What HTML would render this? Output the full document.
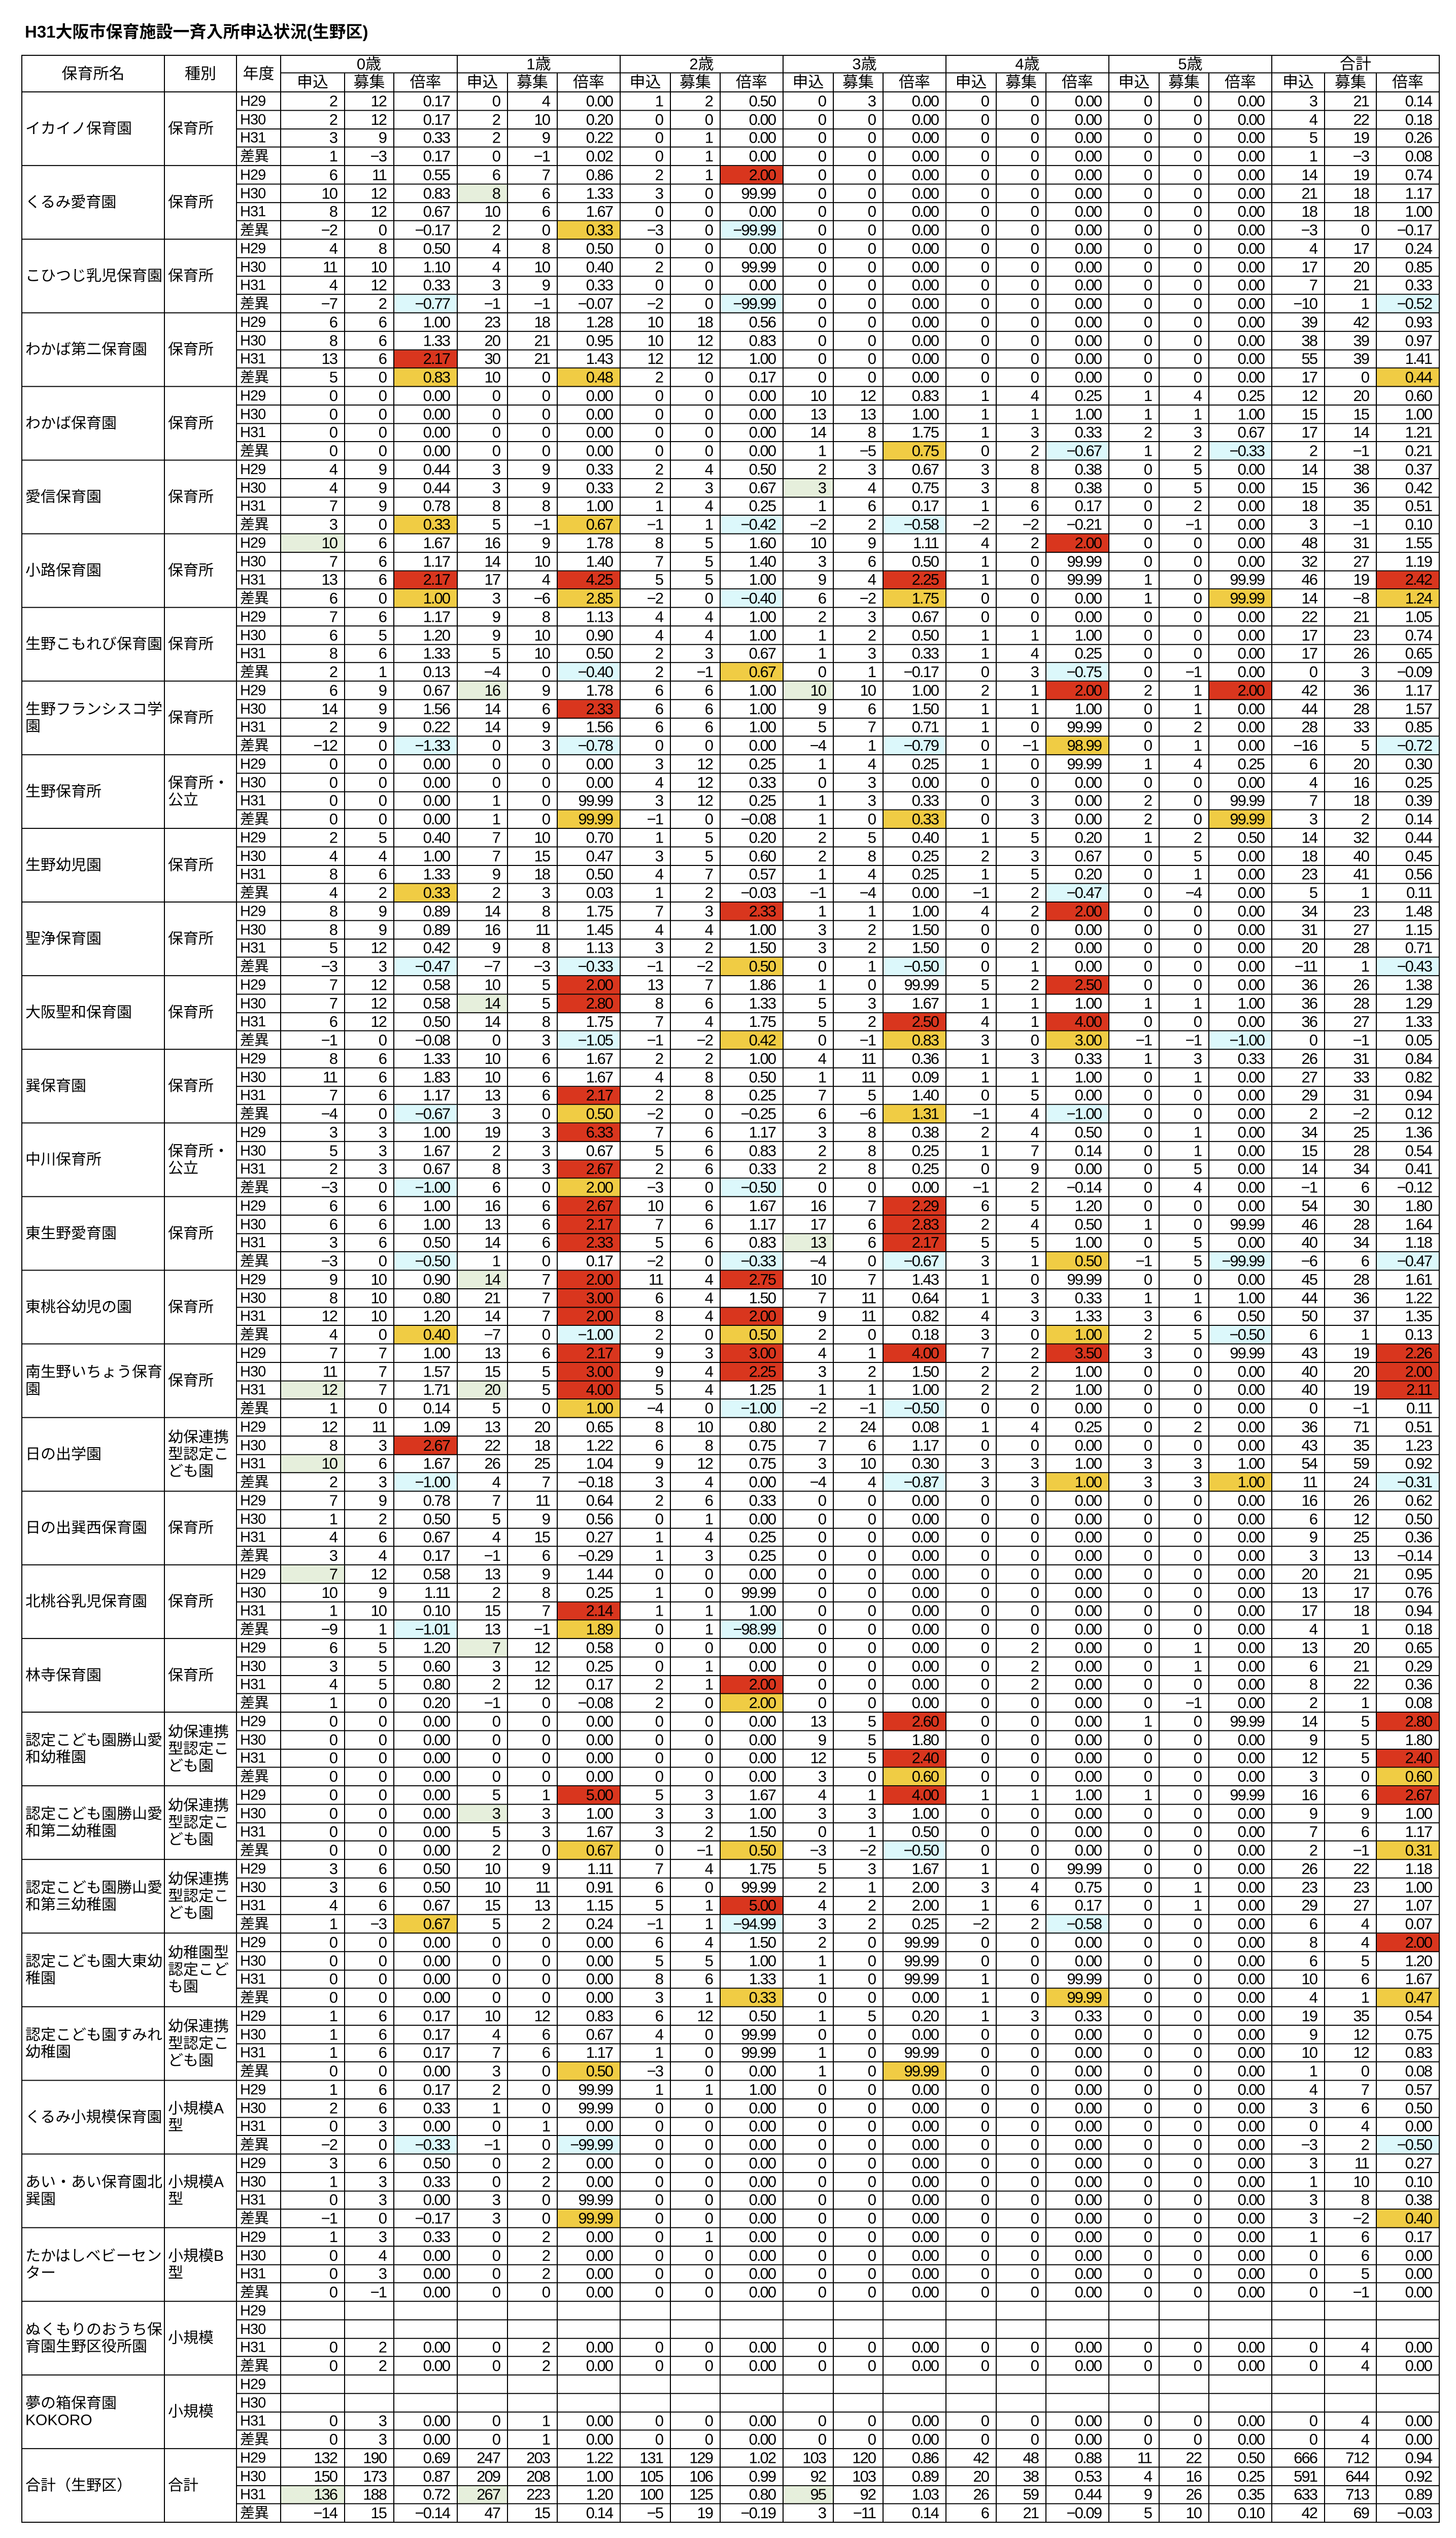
<!DOCTYPE html>
<html style="overflow:hidden"><head><meta charset="utf-8">
<style>
html,body{margin:0;width:2869px;height:5068px;overflow:hidden}
body{background:#fff;position:relative;font-family:"Liberation Sans","Noto Sans CJK JP",sans-serif;color:#000}
.wrap{position:absolute;left:0;top:0;width:2869px;height:5068px;overflow:hidden}
.t{position:absolute;left:49px;top:36px;font-size:33px;font-weight:bold;white-space:nowrap}
table{position:absolute;left:42px;top:108px;border-collapse:separate;border-spacing:0;border-top:2px solid #000;border-left:2px solid #000;table-layout:fixed;width:2795px;font-size:31px;letter-spacing:-2px;transform:scaleY(0.987);transform-origin:0 0}
td,th{border:0;border-right:2px solid #000;border-bottom:2px solid #000;padding:0 14px 0 4px;text-align:right;white-space:nowrap;overflow:hidden;line-height:28px;font-weight:normal}
th{text-align:center;font-size:31px;letter-spacing:0;padding:0}
tr{height:37px}
tr:nth-child(4n+1){height:36px}
tr.h1{height:35px}tr.h2{height:38px}
td.n{text-align:left;white-space:normal;font-size:30px;letter-spacing:0;line-height:34px;padding-left:6px;padding-right:2px;vertical-align:middle}
td.a{text-align:left;letter-spacing:-1px;font-size:29px;padding-left:6px}
.r{background:#d9361e}.y{background:#f0cc44}.c{background:#dcf8fb}.g{background:#e6efdc}
</style></head><body>
<div class="wrap">
<div class="t">H31大阪市保育施設一斉入所申込状況(生野区)</div>
<table>
<colgroup><col style="width:281px"><col style="width:142px"><col style="width:87px"><col style="width:126px"><col style="width:97px"><col style="width:125px"><col style="width:99px"><col style="width:98px"><col style="width:124px"><col style="width:99px"><col style="width:98px"><col style="width:124px"><col style="width:99px"><col style="width:98px"><col style="width:124px"><col style="width:99px"><col style="width:98px"><col style="width:124px"><col style="width:99px"><col style="width:98px"><col style="width:124px"><col style="width:104px"><col style="width:102px"><col style="width:124px"></colgroup>
<tr class="h1"><th rowspan=2>保育所名<th rowspan=2>種別<th rowspan=2>年度<th colspan=3>0歳<th colspan=3>1歳<th colspan=3>2歳<th colspan=3>3歳<th colspan=3>4歳<th colspan=3>5歳<th colspan=3>合計
<tr class="h2"><th>申込<th>募集<th>倍率<th>申込<th>募集<th>倍率<th>申込<th>募集<th>倍率<th>申込<th>募集<th>倍率<th>申込<th>募集<th>倍率<th>申込<th>募集<th>倍率<th>申込<th>募集<th>倍率

<tr><td rowspan=4 class=n>イカイノ保育園<td rowspan=4 class=n>保育所<td class=a>H29<td>2<td>12<td>0.17<td>0<td>4<td>0.00<td>1<td>2<td>0.50<td>0<td>3<td>0.00<td>0<td>0<td>0.00<td>0<td>0<td>0.00<td>3<td>21<td>0.14
<tr><td class=a>H30<td>2<td>12<td>0.17<td>2<td>10<td>0.20<td>0<td>0<td>0.00<td>0<td>0<td>0.00<td>0<td>0<td>0.00<td>0<td>0<td>0.00<td>4<td>22<td>0.18
<tr><td class=a>H31<td>3<td>9<td>0.33<td>2<td>9<td>0.22<td>0<td>1<td>0.00<td>0<td>0<td>0.00<td>0<td>0<td>0.00<td>0<td>0<td>0.00<td>5<td>19<td>0.26
<tr><td class=a>差異<td>1<td>−3<td>0.17<td>0<td>−1<td>0.02<td>0<td>1<td>0.00<td>0<td>0<td>0.00<td>0<td>0<td>0.00<td>0<td>0<td>0.00<td>1<td>−3<td>0.08

<tr><td rowspan=4 class=n>くるみ愛育園<td rowspan=4 class=n>保育所<td class=a>H29<td>6<td>11<td>0.55<td>6<td>7<td>0.86<td>2<td>1<td class=r>2.00<td>0<td>0<td>0.00<td>0<td>0<td>0.00<td>0<td>0<td>0.00<td>14<td>19<td>0.74
<tr><td class=a>H30<td>10<td>12<td>0.83<td class=g>8<td>6<td>1.33<td>3<td>0<td>99.99<td>0<td>0<td>0.00<td>0<td>0<td>0.00<td>0<td>0<td>0.00<td>21<td>18<td>1.17
<tr><td class=a>H31<td>8<td>12<td>0.67<td>10<td>6<td>1.67<td>0<td>0<td>0.00<td>0<td>0<td>0.00<td>0<td>0<td>0.00<td>0<td>0<td>0.00<td>18<td>18<td>1.00
<tr><td class=a>差異<td>−2<td>0<td>−0.17<td>2<td>0<td class=y>0.33<td>−3<td>0<td class=c>−99.99<td>0<td>0<td>0.00<td>0<td>0<td>0.00<td>0<td>0<td>0.00<td>−3<td>0<td>−0.17

<tr><td rowspan=4 class=n>こひつじ乳児保育園<td rowspan=4 class=n>保育所<td class=a>H29<td>4<td>8<td>0.50<td>4<td>8<td>0.50<td>0<td>0<td>0.00<td>0<td>0<td>0.00<td>0<td>0<td>0.00<td>0<td>0<td>0.00<td>4<td>17<td>0.24
<tr><td class=a>H30<td>11<td>10<td>1.10<td>4<td>10<td>0.40<td>2<td>0<td>99.99<td>0<td>0<td>0.00<td>0<td>0<td>0.00<td>0<td>0<td>0.00<td>17<td>20<td>0.85
<tr><td class=a>H31<td>4<td>12<td>0.33<td>3<td>9<td>0.33<td>0<td>0<td>0.00<td>0<td>0<td>0.00<td>0<td>0<td>0.00<td>0<td>0<td>0.00<td>7<td>21<td>0.33
<tr><td class=a>差異<td>−7<td>2<td class=c>−0.77<td>−1<td>−1<td>−0.07<td>−2<td>0<td class=c>−99.99<td>0<td>0<td>0.00<td>0<td>0<td>0.00<td>0<td>0<td>0.00<td>−10<td>1<td class=c>−0.52

<tr><td rowspan=4 class=n>わかば第二保育園<td rowspan=4 class=n>保育所<td class=a>H29<td>6<td>6<td>1.00<td>23<td>18<td>1.28<td>10<td>18<td>0.56<td>0<td>0<td>0.00<td>0<td>0<td>0.00<td>0<td>0<td>0.00<td>39<td>42<td>0.93
<tr><td class=a>H30<td>8<td>6<td>1.33<td>20<td>21<td>0.95<td>10<td>12<td>0.83<td>0<td>0<td>0.00<td>0<td>0<td>0.00<td>0<td>0<td>0.00<td>38<td>39<td>0.97
<tr><td class=a>H31<td>13<td>6<td class=r>2.17<td>30<td>21<td>1.43<td>12<td>12<td>1.00<td>0<td>0<td>0.00<td>0<td>0<td>0.00<td>0<td>0<td>0.00<td>55<td>39<td>1.41
<tr><td class=a>差異<td>5<td>0<td class=y>0.83<td>10<td>0<td class=y>0.48<td>2<td>0<td>0.17<td>0<td>0<td>0.00<td>0<td>0<td>0.00<td>0<td>0<td>0.00<td>17<td>0<td class=y>0.44

<tr><td rowspan=4 class=n>わかば保育園<td rowspan=4 class=n>保育所<td class=a>H29<td>0<td>0<td>0.00<td>0<td>0<td>0.00<td>0<td>0<td>0.00<td>10<td>12<td>0.83<td>1<td>4<td>0.25<td>1<td>4<td>0.25<td>12<td>20<td>0.60
<tr><td class=a>H30<td>0<td>0<td>0.00<td>0<td>0<td>0.00<td>0<td>0<td>0.00<td>13<td>13<td>1.00<td>1<td>1<td>1.00<td>1<td>1<td>1.00<td>15<td>15<td>1.00
<tr><td class=a>H31<td>0<td>0<td>0.00<td>0<td>0<td>0.00<td>0<td>0<td>0.00<td>14<td>8<td>1.75<td>1<td>3<td>0.33<td>2<td>3<td>0.67<td>17<td>14<td>1.21
<tr><td class=a>差異<td>0<td>0<td>0.00<td>0<td>0<td>0.00<td>0<td>0<td>0.00<td>1<td>−5<td class=y>0.75<td>0<td>2<td class=c>−0.67<td>1<td>2<td class=c>−0.33<td>2<td>−1<td>0.21

<tr><td rowspan=4 class=n>愛信保育園<td rowspan=4 class=n>保育所<td class=a>H29<td>4<td>9<td>0.44<td>3<td>9<td>0.33<td>2<td>4<td>0.50<td>2<td>3<td>0.67<td>3<td>8<td>0.38<td>0<td>5<td>0.00<td>14<td>38<td>0.37
<tr><td class=a>H30<td>4<td>9<td>0.44<td>3<td>9<td>0.33<td>2<td>3<td>0.67<td class=g>3<td>4<td>0.75<td>3<td>8<td>0.38<td>0<td>5<td>0.00<td>15<td>36<td>0.42
<tr><td class=a>H31<td>7<td>9<td>0.78<td>8<td>8<td>1.00<td>1<td>4<td>0.25<td>1<td>6<td>0.17<td>1<td>6<td>0.17<td>0<td>2<td>0.00<td>18<td>35<td>0.51
<tr><td class=a>差異<td>3<td>0<td class=y>0.33<td>5<td>−1<td class=y>0.67<td>−1<td>1<td class=c>−0.42<td>−2<td>2<td class=c>−0.58<td>−2<td>−2<td>−0.21<td>0<td>−1<td>0.00<td>3<td>−1<td>0.10

<tr><td rowspan=4 class=n>小路保育園<td rowspan=4 class=n>保育所<td class=a>H29<td class=g>10<td>6<td>1.67<td>16<td>9<td>1.78<td>8<td>5<td>1.60<td>10<td>9<td>1.11<td>4<td>2<td class=r>2.00<td>0<td>0<td>0.00<td>48<td>31<td>1.55
<tr><td class=a>H30<td>7<td>6<td>1.17<td>14<td>10<td>1.40<td>7<td>5<td>1.40<td>3<td>6<td>0.50<td>1<td>0<td>99.99<td>0<td>0<td>0.00<td>32<td>27<td>1.19
<tr><td class=a>H31<td>13<td>6<td class=r>2.17<td>17<td>4<td class=r>4.25<td>5<td>5<td>1.00<td>9<td>4<td class=r>2.25<td>1<td>0<td>99.99<td>1<td>0<td>99.99<td>46<td>19<td class=r>2.42
<tr><td class=a>差異<td>6<td>0<td class=y>1.00<td>3<td>−6<td class=y>2.85<td>−2<td>0<td class=c>−0.40<td>6<td>−2<td class=y>1.75<td>0<td>0<td>0.00<td>1<td>0<td class=y>99.99<td>14<td>−8<td class=y>1.24

<tr><td rowspan=4 class=n>生野こもれび保育園<td rowspan=4 class=n>保育所<td class=a>H29<td>7<td>6<td>1.17<td>9<td>8<td>1.13<td>4<td>4<td>1.00<td>2<td>3<td>0.67<td>0<td>0<td>0.00<td>0<td>0<td>0.00<td>22<td>21<td>1.05
<tr><td class=a>H30<td>6<td>5<td>1.20<td>9<td>10<td>0.90<td>4<td>4<td>1.00<td>1<td>2<td>0.50<td>1<td>1<td>1.00<td>0<td>0<td>0.00<td>17<td>23<td>0.74
<tr><td class=a>H31<td>8<td>6<td>1.33<td>5<td>10<td>0.50<td>2<td>3<td>0.67<td>1<td>3<td>0.33<td>1<td>4<td>0.25<td>0<td>0<td>0.00<td>17<td>26<td>0.65
<tr><td class=a>差異<td>2<td>1<td>0.13<td>−4<td>0<td class=c>−0.40<td>2<td>−1<td class=y>0.67<td>0<td>1<td>−0.17<td>0<td>3<td class=c>−0.75<td>0<td>−1<td>0.00<td>0<td>3<td>−0.09

<tr><td rowspan=4 class=n>生野フランシスコ学園<td rowspan=4 class=n>保育所<td class=a>H29<td>6<td>9<td>0.67<td class=g>16<td>9<td>1.78<td>6<td>6<td>1.00<td class=g>10<td>10<td>1.00<td>2<td>1<td class=r>2.00<td>2<td>1<td class=r>2.00<td>42<td>36<td>1.17
<tr><td class=a>H30<td>14<td>9<td>1.56<td>14<td>6<td class=r>2.33<td>6<td>6<td>1.00<td>9<td>6<td>1.50<td>1<td>1<td>1.00<td>0<td>1<td>0.00<td>44<td>28<td>1.57
<tr><td class=a>H31<td>2<td>9<td>0.22<td>14<td>9<td>1.56<td>6<td>6<td>1.00<td>5<td>7<td>0.71<td>1<td>0<td>99.99<td>0<td>2<td>0.00<td>28<td>33<td>0.85
<tr><td class=a>差異<td>−12<td>0<td class=c>−1.33<td>0<td>3<td class=c>−0.78<td>0<td>0<td>0.00<td>−4<td>1<td class=c>−0.79<td>0<td>−1<td class=y>98.99<td>0<td>1<td>0.00<td>−16<td>5<td class=c>−0.72

<tr><td rowspan=4 class=n>生野保育所<td rowspan=4 class=n>保育所・公立<td class=a>H29<td>0<td>0<td>0.00<td>0<td>0<td>0.00<td>3<td>12<td>0.25<td>1<td>4<td>0.25<td>1<td>0<td>99.99<td>1<td>4<td>0.25<td>6<td>20<td>0.30
<tr><td class=a>H30<td>0<td>0<td>0.00<td>0<td>0<td>0.00<td>4<td>12<td>0.33<td>0<td>3<td>0.00<td>0<td>0<td>0.00<td>0<td>0<td>0.00<td>4<td>16<td>0.25
<tr><td class=a>H31<td>0<td>0<td>0.00<td>1<td>0<td>99.99<td>3<td>12<td>0.25<td>1<td>3<td>0.33<td>0<td>3<td>0.00<td>2<td>0<td>99.99<td>7<td>18<td>0.39
<tr><td class=a>差異<td>0<td>0<td>0.00<td>1<td>0<td class=y>99.99<td>−1<td>0<td>−0.08<td>1<td>0<td class=y>0.33<td>0<td>3<td>0.00<td>2<td>0<td class=y>99.99<td>3<td>2<td>0.14

<tr><td rowspan=4 class=n>生野幼児園<td rowspan=4 class=n>保育所<td class=a>H29<td>2<td>5<td>0.40<td>7<td>10<td>0.70<td>1<td>5<td>0.20<td>2<td>5<td>0.40<td>1<td>5<td>0.20<td>1<td>2<td>0.50<td>14<td>32<td>0.44
<tr><td class=a>H30<td>4<td>4<td>1.00<td>7<td>15<td>0.47<td>3<td>5<td>0.60<td>2<td>8<td>0.25<td>2<td>3<td>0.67<td>0<td>5<td>0.00<td>18<td>40<td>0.45
<tr><td class=a>H31<td>8<td>6<td>1.33<td>9<td>18<td>0.50<td>4<td>7<td>0.57<td>1<td>4<td>0.25<td>1<td>5<td>0.20<td>0<td>1<td>0.00<td>23<td>41<td>0.56
<tr><td class=a>差異<td>4<td>2<td class=y>0.33<td>2<td>3<td>0.03<td>1<td>2<td>−0.03<td>−1<td>−4<td>0.00<td>−1<td>2<td class=c>−0.47<td>0<td>−4<td>0.00<td>5<td>1<td>0.11

<tr><td rowspan=4 class=n>聖浄保育園<td rowspan=4 class=n>保育所<td class=a>H29<td>8<td>9<td>0.89<td>14<td>8<td>1.75<td>7<td>3<td class=r>2.33<td>1<td>1<td>1.00<td>4<td>2<td class=r>2.00<td>0<td>0<td>0.00<td>34<td>23<td>1.48
<tr><td class=a>H30<td>8<td>9<td>0.89<td>16<td>11<td>1.45<td>4<td>4<td>1.00<td>3<td>2<td>1.50<td>0<td>0<td>0.00<td>0<td>0<td>0.00<td>31<td>27<td>1.15
<tr><td class=a>H31<td>5<td>12<td>0.42<td>9<td>8<td>1.13<td>3<td>2<td>1.50<td>3<td>2<td>1.50<td>0<td>2<td>0.00<td>0<td>0<td>0.00<td>20<td>28<td>0.71
<tr><td class=a>差異<td>−3<td>3<td class=c>−0.47<td>−7<td>−3<td class=c>−0.33<td>−1<td>−2<td class=y>0.50<td>0<td>1<td class=c>−0.50<td>0<td>1<td>0.00<td>0<td>0<td>0.00<td>−11<td>1<td class=c>−0.43

<tr><td rowspan=4 class=n>大阪聖和保育園<td rowspan=4 class=n>保育所<td class=a>H29<td>7<td>12<td>0.58<td>10<td>5<td class=r>2.00<td>13<td>7<td>1.86<td>1<td>0<td>99.99<td>5<td>2<td class=r>2.50<td>0<td>0<td>0.00<td>36<td>26<td>1.38
<tr><td class=a>H30<td>7<td>12<td>0.58<td class=g>14<td>5<td class=r>2.80<td>8<td>6<td>1.33<td>5<td>3<td>1.67<td>1<td>1<td>1.00<td>1<td>1<td>1.00<td>36<td>28<td>1.29
<tr><td class=a>H31<td>6<td>12<td>0.50<td>14<td>8<td>1.75<td>7<td>4<td>1.75<td>5<td>2<td class=r>2.50<td>4<td>1<td class=r>4.00<td>0<td>0<td>0.00<td>36<td>27<td>1.33
<tr><td class=a>差異<td>−1<td>0<td>−0.08<td>0<td>3<td class=c>−1.05<td>−1<td>−2<td class=y>0.42<td>0<td>−1<td class=y>0.83<td>3<td>0<td class=y>3.00<td>−1<td>−1<td class=c>−1.00<td>0<td>−1<td>0.05

<tr><td rowspan=4 class=n>巽保育園<td rowspan=4 class=n>保育所<td class=a>H29<td>8<td>6<td>1.33<td>10<td>6<td>1.67<td>2<td>2<td>1.00<td>4<td>11<td>0.36<td>1<td>3<td>0.33<td>1<td>3<td>0.33<td>26<td>31<td>0.84
<tr><td class=a>H30<td>11<td>6<td>1.83<td>10<td>6<td>1.67<td>4<td>8<td>0.50<td>1<td>11<td>0.09<td>1<td>1<td>1.00<td>0<td>1<td>0.00<td>27<td>33<td>0.82
<tr><td class=a>H31<td>7<td>6<td>1.17<td>13<td>6<td class=r>2.17<td>2<td>8<td>0.25<td>7<td>5<td>1.40<td>0<td>5<td>0.00<td>0<td>0<td>0.00<td>29<td>31<td>0.94
<tr><td class=a>差異<td>−4<td>0<td class=c>−0.67<td>3<td>0<td class=y>0.50<td>−2<td>0<td>−0.25<td>6<td>−6<td class=y>1.31<td>−1<td>4<td class=c>−1.00<td>0<td>0<td>0.00<td>2<td>−2<td>0.12

<tr><td rowspan=4 class=n>中川保育所<td rowspan=4 class=n>保育所・公立<td class=a>H29<td>3<td>3<td>1.00<td>19<td>3<td class=r>6.33<td>7<td>6<td>1.17<td>3<td>8<td>0.38<td>2<td>4<td>0.50<td>0<td>1<td>0.00<td>34<td>25<td>1.36
<tr><td class=a>H30<td>5<td>3<td>1.67<td>2<td>3<td>0.67<td>5<td>6<td>0.83<td>2<td>8<td>0.25<td>1<td>7<td>0.14<td>0<td>1<td>0.00<td>15<td>28<td>0.54
<tr><td class=a>H31<td>2<td>3<td>0.67<td>8<td>3<td class=r>2.67<td>2<td>6<td>0.33<td>2<td>8<td>0.25<td>0<td>9<td>0.00<td>0<td>5<td>0.00<td>14<td>34<td>0.41
<tr><td class=a>差異<td>−3<td>0<td class=c>−1.00<td>6<td>0<td class=y>2.00<td>−3<td>0<td class=c>−0.50<td>0<td>0<td>0.00<td>−1<td>2<td>−0.14<td>0<td>4<td>0.00<td>−1<td>6<td>−0.12

<tr><td rowspan=4 class=n>東生野愛育園<td rowspan=4 class=n>保育所<td class=a>H29<td>6<td>6<td>1.00<td>16<td>6<td class=r>2.67<td>10<td>6<td>1.67<td>16<td>7<td class=r>2.29<td>6<td>5<td>1.20<td>0<td>0<td>0.00<td>54<td>30<td>1.80
<tr><td class=a>H30<td>6<td>6<td>1.00<td>13<td>6<td class=r>2.17<td>7<td>6<td>1.17<td>17<td>6<td class=r>2.83<td>2<td>4<td>0.50<td>1<td>0<td>99.99<td>46<td>28<td>1.64
<tr><td class=a>H31<td>3<td>6<td>0.50<td>14<td>6<td class=r>2.33<td>5<td>6<td>0.83<td class=g>13<td>6<td class=r>2.17<td>5<td>5<td>1.00<td>0<td>5<td>0.00<td>40<td>34<td>1.18
<tr><td class=a>差異<td>−3<td>0<td class=c>−0.50<td>1<td>0<td>0.17<td>−2<td>0<td class=c>−0.33<td>−4<td>0<td class=c>−0.67<td>3<td>1<td class=y>0.50<td>−1<td>5<td class=c>−99.99<td>−6<td>6<td class=c>−0.47

<tr><td rowspan=4 class=n>東桃谷幼児の園<td rowspan=4 class=n>保育所<td class=a>H29<td>9<td>10<td>0.90<td class=g>14<td>7<td class=r>2.00<td>11<td>4<td class=r>2.75<td>10<td>7<td>1.43<td>1<td>0<td>99.99<td>0<td>0<td>0.00<td>45<td>28<td>1.61
<tr><td class=a>H30<td>8<td>10<td>0.80<td>21<td>7<td class=r>3.00<td>6<td>4<td>1.50<td>7<td>11<td>0.64<td>1<td>3<td>0.33<td>1<td>1<td>1.00<td>44<td>36<td>1.22
<tr><td class=a>H31<td>12<td>10<td>1.20<td>14<td>7<td class=r>2.00<td>8<td>4<td class=r>2.00<td>9<td>11<td>0.82<td>4<td>3<td>1.33<td>3<td>6<td>0.50<td>50<td>37<td>1.35
<tr><td class=a>差異<td>4<td>0<td class=y>0.40<td>−7<td>0<td class=c>−1.00<td>2<td>0<td class=y>0.50<td>2<td>0<td>0.18<td>3<td>0<td class=y>1.00<td>2<td>5<td class=c>−0.50<td>6<td>1<td>0.13

<tr><td rowspan=4 class=n>南生野いちょう保育園<td rowspan=4 class=n>保育所<td class=a>H29<td>7<td>7<td>1.00<td>13<td>6<td class=r>2.17<td>9<td>3<td class=r>3.00<td>4<td>1<td class=r>4.00<td>7<td>2<td class=r>3.50<td>3<td>0<td>99.99<td>43<td>19<td class=r>2.26
<tr><td class=a>H30<td>11<td>7<td>1.57<td>15<td>5<td class=r>3.00<td>9<td>4<td class=r>2.25<td>3<td>2<td>1.50<td>2<td>2<td>1.00<td>0<td>0<td>0.00<td>40<td>20<td class=r>2.00
<tr><td class=a>H31<td class=g>12<td>7<td>1.71<td class=g>20<td>5<td class=r>4.00<td>5<td>4<td>1.25<td>1<td>1<td>1.00<td>2<td>2<td>1.00<td>0<td>0<td>0.00<td>40<td>19<td class=r>2.11
<tr><td class=a>差異<td>1<td>0<td>0.14<td>5<td>0<td class=y>1.00<td>−4<td>0<td class=c>−1.00<td>−2<td>−1<td class=c>−0.50<td>0<td>0<td>0.00<td>0<td>0<td>0.00<td>0<td>−1<td>0.11

<tr><td rowspan=4 class=n>日の出学園<td rowspan=4 class=n>幼保連携型認定こども園<td class=a>H29<td>12<td>11<td>1.09<td>13<td>20<td>0.65<td>8<td>10<td>0.80<td>2<td>24<td>0.08<td>1<td>4<td>0.25<td>0<td>2<td>0.00<td>36<td>71<td>0.51
<tr><td class=a>H30<td>8<td>3<td class=r>2.67<td>22<td>18<td>1.22<td>6<td>8<td>0.75<td>7<td>6<td>1.17<td>0<td>0<td>0.00<td>0<td>0<td>0.00<td>43<td>35<td>1.23
<tr><td class=a>H31<td class=g>10<td>6<td>1.67<td>26<td>25<td>1.04<td>9<td>12<td>0.75<td>3<td>10<td>0.30<td>3<td>3<td>1.00<td>3<td>3<td>1.00<td>54<td>59<td>0.92
<tr><td class=a>差異<td>2<td>3<td class=c>−1.00<td>4<td>7<td>−0.18<td>3<td>4<td>0.00<td>−4<td>4<td class=c>−0.87<td>3<td>3<td class=y>1.00<td>3<td>3<td class=y>1.00<td>11<td>24<td class=c>−0.31

<tr><td rowspan=4 class=n>日の出巽西保育園<td rowspan=4 class=n>保育所<td class=a>H29<td>7<td>9<td>0.78<td>7<td>11<td>0.64<td>2<td>6<td>0.33<td>0<td>0<td>0.00<td>0<td>0<td>0.00<td>0<td>0<td>0.00<td>16<td>26<td>0.62
<tr><td class=a>H30<td>1<td>2<td>0.50<td>5<td>9<td>0.56<td>0<td>1<td>0.00<td>0<td>0<td>0.00<td>0<td>0<td>0.00<td>0<td>0<td>0.00<td>6<td>12<td>0.50
<tr><td class=a>H31<td>4<td>6<td>0.67<td>4<td>15<td>0.27<td>1<td>4<td>0.25<td>0<td>0<td>0.00<td>0<td>0<td>0.00<td>0<td>0<td>0.00<td>9<td>25<td>0.36
<tr><td class=a>差異<td>3<td>4<td>0.17<td>−1<td>6<td>−0.29<td>1<td>3<td>0.25<td>0<td>0<td>0.00<td>0<td>0<td>0.00<td>0<td>0<td>0.00<td>3<td>13<td>−0.14

<tr><td rowspan=4 class=n>北桃谷乳児保育園<td rowspan=4 class=n>保育所<td class=a>H29<td class=g>7<td>12<td>0.58<td>13<td>9<td>1.44<td>0<td>0<td>0.00<td>0<td>0<td>0.00<td>0<td>0<td>0.00<td>0<td>0<td>0.00<td>20<td>21<td>0.95
<tr><td class=a>H30<td>10<td>9<td>1.11<td>2<td>8<td>0.25<td>1<td>0<td>99.99<td>0<td>0<td>0.00<td>0<td>0<td>0.00<td>0<td>0<td>0.00<td>13<td>17<td>0.76
<tr><td class=a>H31<td>1<td>10<td>0.10<td>15<td>7<td class=r>2.14<td>1<td>1<td>1.00<td>0<td>0<td>0.00<td>0<td>0<td>0.00<td>0<td>0<td>0.00<td>17<td>18<td>0.94
<tr><td class=a>差異<td>−9<td>1<td class=c>−1.01<td>13<td>−1<td class=y>1.89<td>0<td>1<td class=c>−98.99<td>0<td>0<td>0.00<td>0<td>0<td>0.00<td>0<td>0<td>0.00<td>4<td>1<td>0.18

<tr><td rowspan=4 class=n>林寺保育園<td rowspan=4 class=n>保育所<td class=a>H29<td>6<td>5<td>1.20<td class=g>7<td>12<td>0.58<td>0<td>0<td>0.00<td>0<td>0<td>0.00<td>0<td>2<td>0.00<td>0<td>1<td>0.00<td>13<td>20<td>0.65
<tr><td class=a>H30<td>3<td>5<td>0.60<td>3<td>12<td>0.25<td>0<td>1<td>0.00<td>0<td>0<td>0.00<td>0<td>2<td>0.00<td>0<td>1<td>0.00<td>6<td>21<td>0.29
<tr><td class=a>H31<td>4<td>5<td>0.80<td>2<td>12<td>0.17<td>2<td>1<td class=r>2.00<td>0<td>0<td>0.00<td>0<td>2<td>0.00<td>0<td>0<td>0.00<td>8<td>22<td>0.36
<tr><td class=a>差異<td>1<td>0<td>0.20<td>−1<td>0<td>−0.08<td>2<td>0<td class=y>2.00<td>0<td>0<td>0.00<td>0<td>0<td>0.00<td>0<td>−1<td>0.00<td>2<td>1<td>0.08

<tr><td rowspan=4 class=n>認定こども園勝山愛和幼稚園<td rowspan=4 class=n>幼保連携型認定こども園<td class=a>H29<td>0<td>0<td>0.00<td>0<td>0<td>0.00<td>0<td>0<td>0.00<td>13<td>5<td class=r>2.60<td>0<td>0<td>0.00<td>1<td>0<td>99.99<td>14<td>5<td class=r>2.80
<tr><td class=a>H30<td>0<td>0<td>0.00<td>0<td>0<td>0.00<td>0<td>0<td>0.00<td>9<td>5<td>1.80<td>0<td>0<td>0.00<td>0<td>0<td>0.00<td>9<td>5<td>1.80
<tr><td class=a>H31<td>0<td>0<td>0.00<td>0<td>0<td>0.00<td>0<td>0<td>0.00<td>12<td>5<td class=r>2.40<td>0<td>0<td>0.00<td>0<td>0<td>0.00<td>12<td>5<td class=r>2.40
<tr><td class=a>差異<td>0<td>0<td>0.00<td>0<td>0<td>0.00<td>0<td>0<td>0.00<td>3<td>0<td class=y>0.60<td>0<td>0<td>0.00<td>0<td>0<td>0.00<td>3<td>0<td class=y>0.60

<tr><td rowspan=4 class=n>認定こども園勝山愛和第二幼稚園<td rowspan=4 class=n>幼保連携型認定こども園<td class=a>H29<td>0<td>0<td>0.00<td>5<td>1<td class=r>5.00<td>5<td>3<td>1.67<td>4<td>1<td class=r>4.00<td>1<td>1<td>1.00<td>1<td>0<td>99.99<td>16<td>6<td class=r>2.67
<tr><td class=a>H30<td>0<td>0<td>0.00<td class=g>3<td>3<td>1.00<td>3<td>3<td>1.00<td>3<td>3<td>1.00<td>0<td>0<td>0.00<td>0<td>0<td>0.00<td>9<td>9<td>1.00
<tr><td class=a>H31<td>0<td>0<td>0.00<td>5<td>3<td>1.67<td>3<td>2<td>1.50<td>0<td>1<td>0.50<td>0<td>0<td>0.00<td>0<td>0<td>0.00<td>7<td>6<td>1.17
<tr><td class=a>差異<td>0<td>0<td>0.00<td>2<td>0<td class=y>0.67<td>0<td>−1<td class=y>0.50<td>−3<td>−2<td class=c>−0.50<td>0<td>0<td>0.00<td>0<td>0<td>0.00<td>2<td>−1<td class=y>0.31

<tr><td rowspan=4 class=n>認定こども園勝山愛和第三幼稚園<td rowspan=4 class=n>幼保連携型認定こども園<td class=a>H29<td>3<td>6<td>0.50<td>10<td>9<td>1.11<td>7<td>4<td>1.75<td>5<td>3<td>1.67<td>1<td>0<td>99.99<td>0<td>0<td>0.00<td>26<td>22<td>1.18
<tr><td class=a>H30<td>3<td>6<td>0.50<td>10<td>11<td>0.91<td>6<td>0<td>99.99<td>2<td>1<td>2.00<td>3<td>4<td>0.75<td>0<td>1<td>0.00<td>23<td>23<td>1.00
<tr><td class=a>H31<td>4<td>6<td>0.67<td>15<td>13<td>1.15<td>5<td>1<td class=r>5.00<td>4<td>2<td>2.00<td>1<td>6<td>0.17<td>0<td>1<td>0.00<td>29<td>27<td>1.07
<tr><td class=a>差異<td>1<td>−3<td class=y>0.67<td>5<td>2<td>0.24<td>−1<td>1<td class=c>−94.99<td>3<td>2<td>0.25<td>−2<td>2<td class=c>−0.58<td>0<td>0<td>0.00<td>6<td>4<td>0.07

<tr><td rowspan=4 class=n>認定こども園大東幼稚園<td rowspan=4 class=n>幼稚園型認定こども園<td class=a>H29<td>0<td>0<td>0.00<td>0<td>0<td>0.00<td>6<td>4<td>1.50<td>2<td>0<td>99.99<td>0<td>0<td>0.00<td>0<td>0<td>0.00<td>8<td>4<td class=r>2.00
<tr><td class=a>H30<td>0<td>0<td>0.00<td>0<td>0<td>0.00<td>5<td>5<td>1.00<td>1<td>0<td>99.99<td>0<td>0<td>0.00<td>0<td>0<td>0.00<td>6<td>5<td>1.20
<tr><td class=a>H31<td>0<td>0<td>0.00<td>0<td>0<td>0.00<td>8<td>6<td>1.33<td>1<td>0<td>99.99<td>1<td>0<td>99.99<td>0<td>0<td>0.00<td>10<td>6<td>1.67
<tr><td class=a>差異<td>0<td>0<td>0.00<td>0<td>0<td>0.00<td>3<td>1<td class=y>0.33<td>0<td>0<td>0.00<td>1<td>0<td class=y>99.99<td>0<td>0<td>0.00<td>4<td>1<td class=y>0.47

<tr><td rowspan=4 class=n>認定こども園すみれ幼稚園<td rowspan=4 class=n>幼保連携型認定こども園<td class=a>H29<td>1<td>6<td>0.17<td>10<td>12<td>0.83<td>6<td>12<td>0.50<td>1<td>5<td>0.20<td>1<td>3<td>0.33<td>0<td>0<td>0.00<td>19<td>35<td>0.54
<tr><td class=a>H30<td>1<td>6<td>0.17<td>4<td>6<td>0.67<td>4<td>0<td>99.99<td>0<td>0<td>0.00<td>0<td>0<td>0.00<td>0<td>0<td>0.00<td>9<td>12<td>0.75
<tr><td class=a>H31<td>1<td>6<td>0.17<td>7<td>6<td>1.17<td>1<td>0<td>99.99<td>1<td>0<td>99.99<td>0<td>0<td>0.00<td>0<td>0<td>0.00<td>10<td>12<td>0.83
<tr><td class=a>差異<td>0<td>0<td>0.00<td>3<td>0<td class=y>0.50<td>−3<td>0<td>0.00<td>1<td>0<td class=y>99.99<td>0<td>0<td>0.00<td>0<td>0<td>0.00<td>1<td>0<td>0.08

<tr><td rowspan=4 class=n>くるみ小規模保育園<td rowspan=4 class=n>小規模A型<td class=a>H29<td>1<td>6<td>0.17<td>2<td>0<td>99.99<td>1<td>1<td>1.00<td>0<td>0<td>0.00<td>0<td>0<td>0.00<td>0<td>0<td>0.00<td>4<td>7<td>0.57
<tr><td class=a>H30<td>2<td>6<td>0.33<td>1<td>0<td>99.99<td>0<td>0<td>0.00<td>0<td>0<td>0.00<td>0<td>0<td>0.00<td>0<td>0<td>0.00<td>3<td>6<td>0.50
<tr><td class=a>H31<td>0<td>3<td>0.00<td>0<td>1<td>0.00<td>0<td>0<td>0.00<td>0<td>0<td>0.00<td>0<td>0<td>0.00<td>0<td>0<td>0.00<td>0<td>4<td>0.00
<tr><td class=a>差異<td>−2<td>0<td class=c>−0.33<td>−1<td>0<td class=c>−99.99<td>0<td>0<td>0.00<td>0<td>0<td>0.00<td>0<td>0<td>0.00<td>0<td>0<td>0.00<td>−3<td>2<td class=c>−0.50

<tr><td rowspan=4 class=n>あい・あい保育園北巽園<td rowspan=4 class=n>小規模A型<td class=a>H29<td>3<td>6<td>0.50<td>0<td>2<td>0.00<td>0<td>0<td>0.00<td>0<td>0<td>0.00<td>0<td>0<td>0.00<td>0<td>0<td>0.00<td>3<td>11<td>0.27
<tr><td class=a>H30<td>1<td>3<td>0.33<td>0<td>2<td>0.00<td>0<td>0<td>0.00<td>0<td>0<td>0.00<td>0<td>0<td>0.00<td>0<td>0<td>0.00<td>1<td>10<td>0.10
<tr><td class=a>H31<td>0<td>3<td>0.00<td>3<td>0<td>99.99<td>0<td>0<td>0.00<td>0<td>0<td>0.00<td>0<td>0<td>0.00<td>0<td>0<td>0.00<td>3<td>8<td>0.38
<tr><td class=a>差異<td>−1<td>0<td>−0.17<td>3<td>0<td class=y>99.99<td>0<td>0<td>0.00<td>0<td>0<td>0.00<td>0<td>0<td>0.00<td>0<td>0<td>0.00<td>3<td>−2<td class=y>0.40

<tr><td rowspan=4 class=n>たかはしベビーセンター<td rowspan=4 class=n>小規模B型<td class=a>H29<td>1<td>3<td>0.33<td>0<td>2<td>0.00<td>0<td>1<td>0.00<td>0<td>0<td>0.00<td>0<td>0<td>0.00<td>0<td>0<td>0.00<td>1<td>6<td>0.17
<tr><td class=a>H30<td>0<td>4<td>0.00<td>0<td>2<td>0.00<td>0<td>0<td>0.00<td>0<td>0<td>0.00<td>0<td>0<td>0.00<td>0<td>0<td>0.00<td>0<td>6<td>0.00
<tr><td class=a>H31<td>0<td>3<td>0.00<td>0<td>2<td>0.00<td>0<td>0<td>0.00<td>0<td>0<td>0.00<td>0<td>0<td>0.00<td>0<td>0<td>0.00<td>0<td>5<td>0.00
<tr><td class=a>差異<td>0<td>−1<td>0.00<td>0<td>0<td>0.00<td>0<td>0<td>0.00<td>0<td>0<td>0.00<td>0<td>0<td>0.00<td>0<td>0<td>0.00<td>0<td>−1<td>0.00

<tr><td rowspan=4 class=n>ぬくもりのおうち保育園生野区役所園<td rowspan=4 class=n>小規模<td class=a>H29<td><td><td><td><td><td><td><td><td><td><td><td><td><td><td><td><td><td><td><td><td><td>
<tr><td class=a>H30<td><td><td><td><td><td><td><td><td><td><td><td><td><td><td><td><td><td><td><td><td><td>
<tr><td class=a>H31<td>0<td>2<td>0.00<td>0<td>2<td>0.00<td>0<td>0<td>0.00<td>0<td>0<td>0.00<td>0<td>0<td>0.00<td>0<td>0<td>0.00<td>0<td>4<td>0.00
<tr><td class=a>差異<td>0<td>2<td>0.00<td>0<td>2<td>0.00<td>0<td>0<td>0.00<td>0<td>0<td>0.00<td>0<td>0<td>0.00<td>0<td>0<td>0.00<td>0<td>4<td>0.00

<tr><td rowspan=4 class=n>夢の箱保育園KOKORO<td rowspan=4 class=n>小規模<td class=a>H29<td><td><td><td><td><td><td><td><td><td><td><td><td><td><td><td><td><td><td><td><td><td>
<tr><td class=a>H30<td><td><td><td><td><td><td><td><td><td><td><td><td><td><td><td><td><td><td><td><td><td>
<tr><td class=a>H31<td>0<td>3<td>0.00<td>0<td>1<td>0.00<td>0<td>0<td>0.00<td>0<td>0<td>0.00<td>0<td>0<td>0.00<td>0<td>0<td>0.00<td>0<td>4<td>0.00
<tr><td class=a>差異<td>0<td>3<td>0.00<td>0<td>1<td>0.00<td>0<td>0<td>0.00<td>0<td>0<td>0.00<td>0<td>0<td>0.00<td>0<td>0<td>0.00<td>0<td>4<td>0.00

<tr><td rowspan=4 class=n>合計（生野区）<td rowspan=4 class=n>合計<td class=a>H29<td>132<td>190<td>0.69<td>247<td>203<td>1.22<td>131<td>129<td>1.02<td>103<td>120<td>0.86<td>42<td>48<td>0.88<td>11<td>22<td>0.50<td>666<td>712<td>0.94
<tr><td class=a>H30<td>150<td>173<td>0.87<td>209<td>208<td>1.00<td>105<td>106<td>0.99<td>92<td>103<td>0.89<td>20<td>38<td>0.53<td>4<td>16<td>0.25<td>591<td>644<td>0.92
<tr><td class=a>H31<td class=g>136<td>188<td>0.72<td class=g>267<td>223<td>1.20<td>100<td>125<td>0.80<td class=g>95<td>92<td>1.03<td>26<td>59<td>0.44<td>9<td>26<td>0.35<td>633<td>713<td>0.89
<tr><td class=a>差異<td>−14<td>15<td>−0.14<td>47<td>15<td>0.14<td>−5<td>19<td>−0.19<td>3<td>−11<td>0.14<td>6<td>21<td>−0.09<td>5<td>10<td>0.10<td>42<td>69<td>−0.03
</table>
</div>
</body></html>
